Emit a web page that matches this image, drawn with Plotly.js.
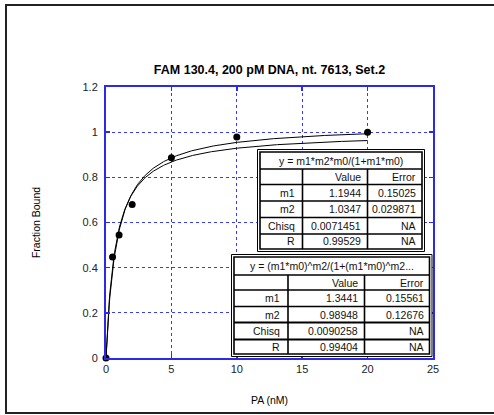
<!DOCTYPE html>
<html>
<head>
<meta charset="utf-8">
<script src="https://cdn.plot.ly/plotly-3.0.1.min.js"></script>
<style>html,body{margin:0;padding:0;background:#fff;}#chart{width:494px;height:415px;}</style>
</head>
<body>
<div id="chart"></div>
<script>
// ---- data ----
const paConc = [0, 0.5, 1, 2, 5, 10, 20];
const fractionBound = [0, 0.447, 0.545, 0.68, 0.887, 0.979, 1.0];

const rowLabels = ['', 'm1', 'm2', 'Chisq', 'R'];
const fit1Header = 'y = m1*m2*m0/(1+m1*m0)';
const fit1Value = ['Value', '1.1944', '1.0347', '0.0071451', '0.99529'];
const fit1Error = ['Error', '0.15025', '0.029871', 'NA', 'NA'];
const fit2Header = 'y = (m1*m0)^m2/(1+(m1*m0)^m2...';
const fit2Value = ['Value', '1.3441', '0.98948', '0.0090258', '0.99404'];
const fit2Error = ['Error', '0.15561', '0.12676', 'NA', 'NA'];

const xTicks = [0, 5, 10, 15, 20, 25];
const yTicks = [0, 0.2, 0.4, 0.6, 0.8, 1, 1.2];

// ---- fit curves from the fitted parameters shown in the tables ----
const f1m1 = parseFloat(fit1Value[1]), f1m2 = parseFloat(fit1Value[2]);
const f2m1 = parseFloat(fit2Value[1]), f2m2 = parseFloat(fit2Value[2]);
const curveX = [];
for (let i = 0; i <= 400; i++) curveX.push(i * 0.05);
const fit1Y = curveX.map(m0 => f1m1 * f1m2 * m0 / (1 + f1m1 * m0));
const fit2Y = curveX.map(m0 => { const t = Math.pow(f2m1 * m0, f2m2); return t / (1 + t); });

// ---- layout geometry (pixels) ----
const W = 494, H = 415;
const L = 106, R = 433, T = 87, B = 358;
const px = x => (x - L) / (R - L);
const py = y => (B - y) / (B - T);

const FONT = 'Liberation Sans, Arial, sans-serif';
const shapes = [];
const annotations = [];

// outer frame
shapes.push({type: 'rect', xref: 'paper', yref: 'paper', x0: px(6), x1: px(500), y0: py(413), y1: py(5),
  line: {color: '#222', width: 2}, layer: 'below'});

function rect(x0, y0, x1, y1, w, fill) {
  shapes.push({type: 'rect', xref: 'paper', yref: 'paper', x0: px(x0), x1: px(x1), y0: py(y1), y1: py(y0),
    line: {color: '#000', width: w}, fillcolor: fill || 'rgba(0,0,0,0)', layer: 'above'});
}
function line(x0, y0, x1, y1, w) {
  shapes.push({type: 'line', xref: 'paper', yref: 'paper', x0: px(x0), x1: px(x1), y0: py(y0), y1: py(y1),
    line: {color: '#000', width: w}, layer: 'above'});
}
function text(s, x, y, anchor) {
  annotations.push({text: s, xref: 'paper', yref: 'paper', x: px(x), y: py(y), xanchor: anchor, yanchor: 'middle',
    showarrow: false, font: {family: FONT, size: 10.5, color: '#111'}});
}

function drawTable(g, header, values, errors) {
  rect(g.ox0, g.oy0, g.ox1, g.oy1, 1, '#fff');
  rect(g.ix0, g.iy0, g.ix1, g.iy1, 1.6);
  const rows = [g.iy0].concat(g.rowLines).concat([g.iy1]);
  g.rowLines.forEach((y, i) => line(g.ix0, y, g.ix1, y, (g.thick && g.thick.includes(i)) ? 2.2 : 1.6));
  g.cols.forEach(x => line(x, g.rowLines[0], x, g.iy1, 1.6));
  text(header, (g.ix0 + g.ix1) / 2, (rows[0] + rows[1]) / 2, 'center');
  for (let r = 0; r < rowLabels.length; r++) {
    const yc = (rows[r + 1] + rows[r + 2]) / 2;
    if (rowLabels[r]) text(rowLabels[r], g.cols[0] - 6, yc, 'right');
    text(values[r], g.cols[1] - 5, yc, 'right');
    text(errors[r], g.ix1 - 4, yc, 'right');
  }
}

drawTable({ox0: 257.5, oy0: 149.5, ox1: 424.5, oy1: 251.5, ix0: 260, iy0: 152, ix1: 422, iy1: 249,
  rowLines: [169, 184.5, 201, 217.5, 234], cols: [302.5, 367.5]}, fit1Header, fit1Value, fit1Error);
drawTable({ox0: 231.5, oy0: 254.5, ox1: 432, oy1: 356.5, ix0: 234, iy0: 257, ix1: 429.5, iy1: 354,
  rowLines: [275, 290, 306.5, 322.5, 339.5], cols: [288, 364.5], thick: [3, 4]}, fit2Header, fit2Value, fit2Error);

const traces = [
  {x: curveX, y: fit1Y, type: 'scatter', mode: 'lines', line: {color: '#000', width: 1}, hoverinfo: 'skip'},
  {x: curveX, y: fit2Y, type: 'scatter', mode: 'lines', line: {color: '#000', width: 1}, hoverinfo: 'skip'},
  {x: paConc, y: fractionBound, type: 'scatter', mode: 'markers', marker: {color: '#000', size: 7}, cliponaxis: false}
];

const axisCommon = {
  showgrid: true, gridcolor: '#3a3af5', griddash: 'dot', gridwidth: 1,
  showline: true, linecolor: '#2a2ae8', linewidth: 2, mirror: 'ticks',
  ticks: 'inside', ticklen: 4, tickcolor: '#2a2ae8', tickwidth: 1.5,
  zeroline: false, tickfont: {family: FONT, size: 11, color: '#222'}
};

const layout = {
  width: W, height: H,
  margin: {l: L, r: W - R, t: T, b: H - B, pad: 0},
  paper_bgcolor: '#fff', plot_bgcolor: '#fff',
  showlegend: false,
  title: {text: 'FAM 130.4, 200 pM DNA, nt. 7613, Set.2', font: {family: FONT, size: 12.5, color: '#000', weight: 'bold'},
    x: 0.5, xanchor: 'center', xref: 'paper', y: 1 - 70 / H, yanchor: 'middle'},
  xaxis: Object.assign({}, axisCommon, {range: [0, 25], tickvals: xTicks, ticktext: xTicks.map(String),
    title: {text: 'PA (nM)', font: {family: FONT, size: 10.5, color: '#000'}, standoff: 22}}),
  yaxis: Object.assign({}, axisCommon, {range: [0, 1.2], tickvals: yTicks, ticktext: yTicks.map(String),
    ticklabelstandoff: 4,
    title: {text: 'Fraction Bound', font: {family: FONT, size: 10.5, color: '#000'}, standoff: 40}}),
  shapes: shapes,
  annotations: annotations
};

Plotly.newPlot('chart', traces, layout, {displayModeBar: false, staticPlot: true});
</script>
</body>
</html>
